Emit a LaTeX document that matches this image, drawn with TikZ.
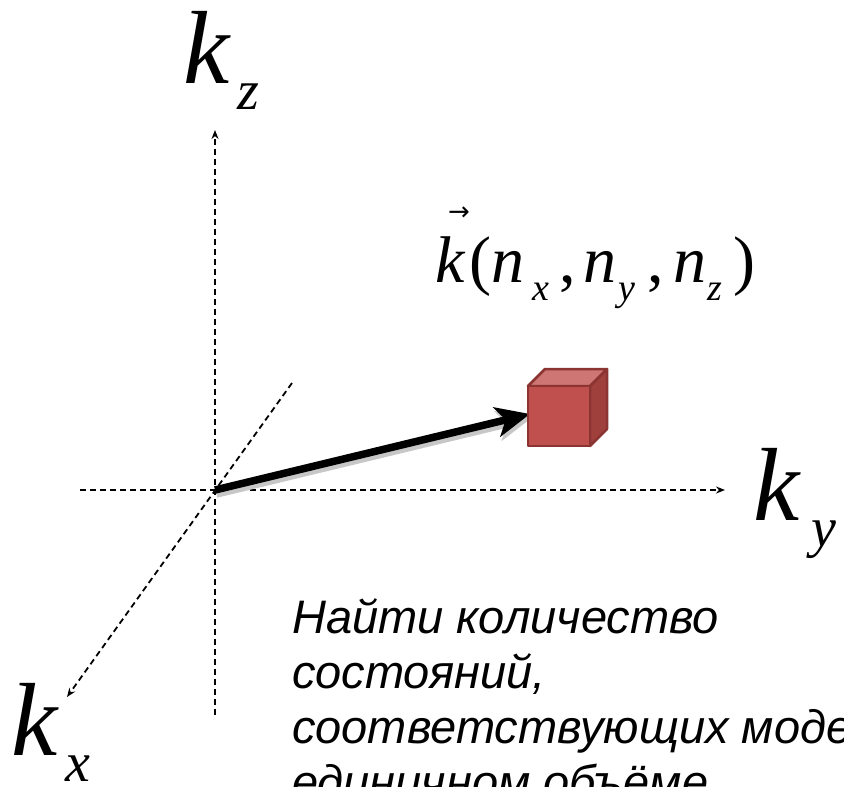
\documentclass[tikz,border=0pt]{standalone}
\usepackage{fontspec}
\usepackage{tikz}
\usetikzlibrary{arrows.meta,positioning}
\newfontfamily\serifk{Liberation Serif}
\newfontfamily\sansru{Liberation Sans}
\newfontfamily\symb{DejaVu Sans}
\definecolor{cubered}{RGB}{192,80,77}
\definecolor{cubetop}{RGB}{205,118,116}
\definecolor{cubeside}{RGB}{160,64,61}
\definecolor{cubeedge}{RGB}{140,52,50}
\newcommand{\bigk}[2]{{\serifk\itshape\fontsize{104}{104}\selectfont k\hspace{#2}\raisebox{-26pt}{\fontsize{56}{56}\selectfont #1}}}
\newcommand{\nsub}[1]{\raisebox{-18pt}{\fontsize{38}{38}\selectfont\itshape #1}}

\begin{document}
\begin{tikzpicture}[x=1pt, y=-1pt,
  axis/.style={line width=1.8pt, dash pattern=on 6pt off 4pt, -{Stealth[length=9pt,width=7pt]}},
  kvec/.style={line width=7.5pt, -{Stealth[length=34pt,width=30pt,inset=9pt]}},
  lbl/.style={inner sep=0pt, anchor=base west}]
\path[use as bounding box, clip] (0,0) rectangle (844,787);
% Axes
\coordinate (O) at (215,490);
\coordinate (zTop) at (215,130); \coordinate (zBot) at (215,715);
\coordinate (yLeft) at (80,490); \coordinate (yRight) at (725,490);
\coordinate (xTop) at (292,383); \coordinate (xTip) at (67,697);
\draw[axis] (zBot) -- (zTop);
\draw[axis] (yLeft) -- (yRight);
\draw[axis] (xTop) -- (xTip);
\node[lbl] (kz) at (183,83) {\bigk{z}{8pt}};
\node[lbl] (ky) at (753,520) {\bigk{y}{12pt}};
\node[lbl] (kx) at (11,755) {\bigk{x}{8pt}};
% Wave vector
\coordinate (kTip) at (530,414);
\draw[kvec, black!22, transform canvas={shift={(1.5pt,-4pt)}}] (O) -- (kTip);
\draw[kvec] (O) -- (kTip);
% Cube
\draw[cubeedge, line width=2.5pt, fill=cubeside, line join=round] (590,386) -- (607,369) -- (607,429) -- (590,446) -- cycle;
\draw[cubeedge, line width=2.5pt, fill=cubetop, line join=round] (528,386) -- (545,369) -- (607,369) -- (590,386) -- cycle;
\draw[cubeedge, line width=2.5pt, fill=cubered, line join=round] (528,386) rectangle (590,446);
% Label of k
\node[lbl] (klabel) at (435,282) {\serifk\fontsize{66}{66}\selectfont
  \textit{k}\hspace{4pt}(\textit{n}\hspace{8pt}\nsub{x}\hspace{10pt},\hspace{8pt}\textit{n}\hspace{2pt}\nsub{y}\hspace{12pt},\hspace{9pt}\textit{n}\hspace{1pt}\nsub{z}\hspace{12pt})};
\node[inner sep=0pt] (karrow) at (459,214) {\symb\fontsize{26}{26}\selectfont →};
% Task text
\node[inner sep=0pt, anchor=base west, align=left, font=\sansru\itshape\fontsize{47}{55}\selectfont] (task) at (292,798)
  {Найти количество\\состояний,\\соответствующих моде\\единичном объёме};
\end{tikzpicture}
\end{document}
